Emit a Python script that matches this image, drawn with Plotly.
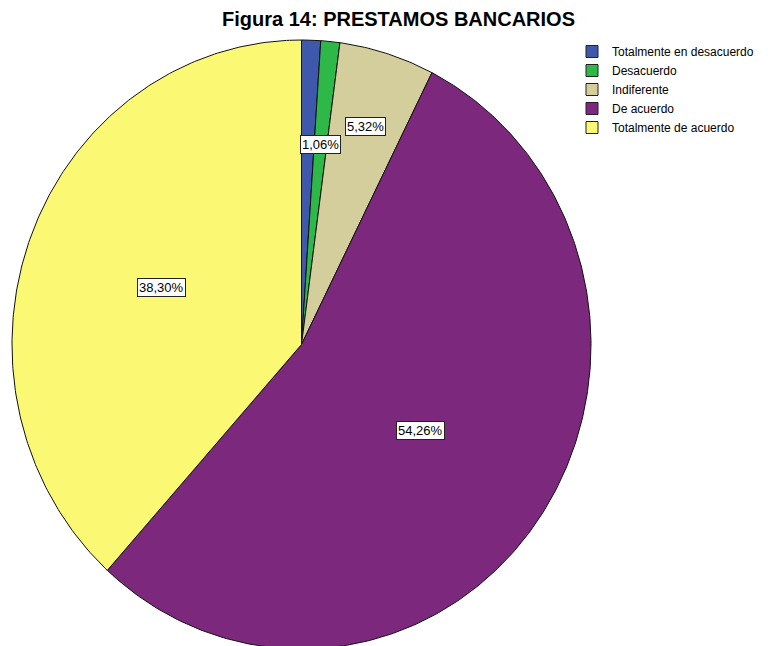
import math
import plotly.graph_objects as go

# Survey responses: share of each answer (percent)
categories = ["Totalmente en desacuerdo", "Desacuerdo", "Indiferente",
              "De acuerdo", "Totalmente de acuerdo"]
percentages = [1.06, 1.06, 5.32, 54.26, 38.30]
value_labels = ["1,06%", "1,06%", "5,32%", "54,26%", "38,30%"]

colors = ["#3E58AC", "#2EB848", "#D4CE9C", "#7B287D", "#FBF873"]
label_radius = [0.66, 0.66, 0.75, 0.50, 0.52]

W, H = 773, 646
CX, CY = 301.5, 344.5          # pie centre, px
RX, RY = 289.5, 304.5          # pie radii, px

# axis ranges so that the unit ellipse maps onto the pie radii
x_range = [(0 - CX) / RX, (W - CX) / RX]
y_range = [(CY - H) / RY, (CY - 0) / RY]

fig = go.Figure()

total = sum(percentages)
start = 0.0
mids = []
for name, val, col in zip(categories, percentages, colors):
    end = start + val
    n = max(int(val * 6), 4)
    xs, ys = [0.0], [0.0]
    for k in range(n + 1):
        t = 2 * math.pi * (start + (end - start) * k / n) / total
        xs.append(math.sin(t))
        ys.append(math.cos(t))
    xs.append(0.0)
    ys.append(0.0)
    fig.add_trace(go.Scatter(
        x=xs, y=ys, mode="lines", fill="toself", fillcolor=col,
        line=dict(color="#111111", width=1), hoverinfo="skip",
        showlegend=False,
    ))
    mids.append(2 * math.pi * (start + end) / 2 / total)
    start = end

# legend entries with square swatches
for name, col in zip(categories, colors):
    fig.add_trace(go.Scatter(
        x=[None], y=[None], mode="markers", name=name,
        marker=dict(symbol="square", size=12, color=col,
                    line=dict(color="#222222", width=1)),
    ))

# value labels; a label hidden under a later one is dropped
pos = []
for i, m in enumerate(mids):
    r = label_radius[i]
    pos.append((r * math.sin(m), r * math.cos(m)))
for i, (lx, ly) in enumerate(pos):
    hidden = False
    for j in range(i + 1, len(pos)):
        dx = abs(pos[j][0] - lx) * RX
        dy = abs(pos[j][1] - ly) * RY
        if dx < 45 and dy < 18:
            hidden = True
    if hidden:
        continue
    fig.add_annotation(
        x=lx, y=ly, xref="x", yref="y", text=value_labels[i],
        showarrow=False, bgcolor="white", bordercolor="#222222",
        borderwidth=1, borderpad=1,
        font=dict(family="Liberation Sans, Arial", size=13, color="black"),
    )

fig.add_annotation(
    x=398 / W, y=1 - 19 / H, xref="paper", yref="paper",
    text="<b>Figura 14: PRESTAMOS BANCARIOS</b>", showarrow=False,
    xanchor="center", yanchor="middle",
    font=dict(family="Liberation Sans, Arial", size=20, color="black"),
)

fig.update_layout(
    width=W, height=H,
    margin=dict(l=0, r=0, t=0, b=0),
    paper_bgcolor="white", plot_bgcolor="white",
    xaxis=dict(range=x_range, visible=False, fixedrange=True),
    yaxis=dict(range=y_range, visible=False, fixedrange=True),
    legend=dict(
        x=572 / W, y=1 - 37 / H, xanchor="left", yanchor="top",
        font=dict(family="Liberation Sans, Arial", size=12, color="black"),
        bgcolor="rgba(0,0,0,0)", tracegroupgap=0, itemwidth=30,
    ),
)

fig.write_html("out.html")
